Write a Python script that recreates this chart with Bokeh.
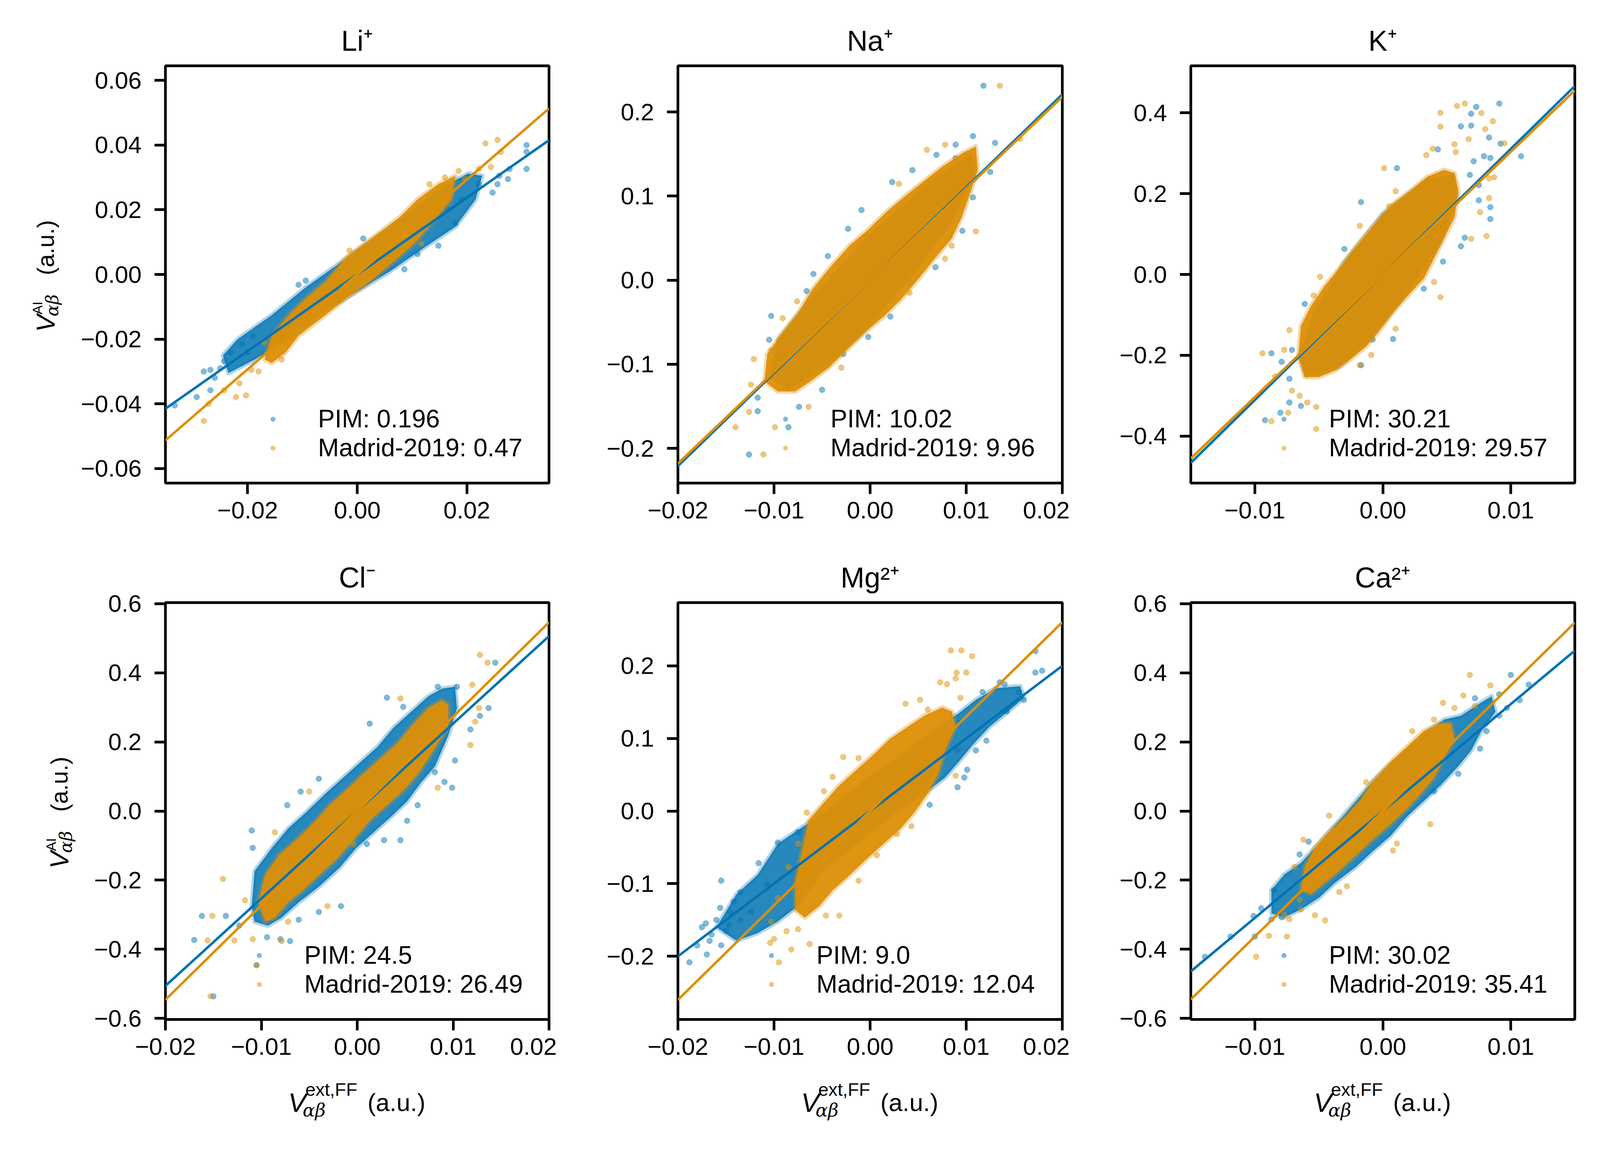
import math
from bokeh.plotting import figure
from bokeh.models import (Range1d, FixedTicker, CustomJSTickFormatter, Legend,
                          LegendItem, Label)
from bokeh.layouts import gridplot
from bokeh.embed import file_html
from bokeh.resources import INLINE

# ------------------------------------------------------------------ data
ions = ["Li\u207a", "Na\u207a", "K\u207a", "Cl\u207b", "Mg\u00b2\u207a", "Ca\u00b2\u207a"]
pim_err = ["0.196", "10.02", "30.21", "24.5", "9.0", "30.02"]
madrid_err = ["0.47", "9.96", "29.57", "26.49", "12.04", "35.41"]

x_limits = [(-0.035, 0.035), (-0.02, 0.02), (-0.015, 0.015),
            (-0.02, 0.02), (-0.02, 0.02), (-0.015, 0.015)]
y_limits = [(-0.0645, 0.0645), (-0.2413, 0.2549), (-0.516, 0.516),
            (-0.603, 0.603), (-0.287, 0.287), (-0.603, 0.603)]
x_ticks = [[-0.02, 0.0, 0.02], [-0.02, -0.01, 0.0, 0.01, 0.02], [-0.01, 0.0, 0.01],
           [-0.02, -0.01, 0.0, 0.01, 0.02], [-0.02, -0.01, 0.0, 0.01, 0.02], [-0.01, 0.0, 0.01]]
y_ticks = [[-0.06, -0.04, -0.02, 0.0, 0.02, 0.04, 0.06],
           [-0.2, -0.1, 0.0, 0.1, 0.2],
           [-0.4, -0.2, 0.0, 0.2, 0.4],
           [-0.6, -0.4, -0.2, 0.0, 0.2, 0.4, 0.6],
           [-0.2, -0.1, 0.0, 0.1, 0.2],
           [-0.6, -0.4, -0.2, 0.0, 0.2, 0.4, 0.6]]
y_decimals = [2, 1, 1, 1, 1, 1]

# fitted lines: y value at the left and right x-limit
fit_pim = [(-0.0415, 0.0415), (-0.221, 0.221), (-0.466, 0.466),
           (-0.506, 0.506), (-0.200, 0.200), (-0.464, 0.464)]
fit_madrid = [(-0.0513, 0.0513), (-0.218, 0.218), (-0.455, 0.455),
              (-0.546, 0.546), (-0.260, 0.260), (-0.545, 0.545)]

# dense cores of the point clouds (outline of the solid region)
li_pim_core = [(-0.0245, -0.0250), (-0.0218, -0.0200), (-0.0156, -0.0126), (-0.0094, -0.0040),
               (-0.0032, 0.0035), (0.0030, 0.0110), (0.0092, 0.0185), (0.0154, 0.0270),
               (0.0203, 0.0312), (0.0228, 0.0305), (0.0216, 0.0232), (0.0179, 0.0147),
               (0.0123, 0.0084), (0.0061, 0.0011), (-0.0001, -0.0053), (-0.0063, -0.0116),
               (-0.0125, -0.0200), (-0.0187, -0.0263), (-0.0235, -0.0305)]
li_madrid_core = [(-0.0169, -0.0263), (-0.0156, -0.0189), (-0.0125, -0.0126), (-0.0094, -0.0074),
                  (-0.0057, -0.0021), (-0.0020, 0.0053), (0.0030, 0.0116), (0.0079, 0.0179),
                  (0.0110, 0.0232), (0.0148, 0.0279), (0.0179, 0.0305), (0.0172, 0.0232),
                  (0.0141, 0.0168), (0.0104, 0.0095), (0.0061, 0.0032), (0.0024, -0.0021),
                  (-0.0020, -0.0074), (-0.0063, -0.0132), (-0.0107, -0.0189), (-0.0131, -0.0242),
                  (-0.0156, -0.0274)]
na_pim_core = [(-0.0105, -0.115), (-0.0095, -0.070), (-0.0060, -0.020), (0.0000, 0.055),
               (0.0060, 0.115), (0.0105, 0.150), (0.0108, 0.125), (0.0085, 0.070),
               (0.0040, 0.000), (-0.0010, -0.065), (-0.0050, -0.105), (-0.0085, -0.130)]
na_madrid_core = [(-0.0110, -0.1202), (-0.0107, -0.0879), (-0.0092, -0.0636), (-0.0075, -0.0393),
                  (-0.0060, -0.0109), (-0.0043, 0.0134), (-0.0021, 0.0417), (-0.0004, 0.0579),
                  (0.0018, 0.0822), (0.0039, 0.1024), (0.0057, 0.1186), (0.0075, 0.1348),
                  (0.0096, 0.1510), (0.0110, 0.1591), (0.0112, 0.1308), (0.0105, 0.1065),
                  (0.0095, 0.0741), (0.0085, 0.0498), (0.0067, 0.0255), (0.0050, 0.0012),
                  (0.0032, -0.0231), (0.0014, -0.0433), (-0.0007, -0.0636), (-0.0025, -0.0838),
                  (-0.0043, -0.1040), (-0.0062, -0.1202), (-0.0078, -0.1324), (-0.0096, -0.1324)]
k_pim_core = [(-0.0065, -0.200), (-0.0055, -0.100), (-0.0030, 0.030), (0.0000, 0.150),
              (0.0035, 0.235), (0.0055, 0.245), (0.0058, 0.190), (0.0045, 0.080),
              (0.0020, -0.040), (-0.0010, -0.160), (-0.0035, -0.230), (-0.0060, -0.250)]
k_madrid_core = [(-0.0066, -0.2034), (-0.0064, -0.1277), (-0.0056, -0.0773), (-0.0045, -0.0269),
                 (-0.0034, 0.0151), (-0.0024, 0.0571), (-0.0013, 0.0992), (-0.0002, 0.1412),
                 (0.0008, 0.1748), (0.0022, 0.2084), (0.0035, 0.2420), (0.0048, 0.2588),
                 (0.0056, 0.2504), (0.0059, 0.2084), (0.0056, 0.1412), (0.0048, 0.0908),
                 (0.0040, 0.0403), (0.0032, -0.0101), (0.0022, -0.0437), (0.0008, -0.0941),
                 (-0.0002, -0.1361), (-0.0013, -0.1782), (-0.0026, -0.2118), (-0.0037, -0.2370),
                 (-0.0050, -0.2538), (-0.0061, -0.2538)]
cl_pim_core = [(-0.0110, -0.2753), (-0.0107, -0.1742), (-0.0089, -0.1067), (-0.0072, -0.0506),
               (-0.0054, -0.0056), (-0.0033, 0.0506), (-0.0015, 0.0955), (0.0003, 0.1404),
               (0.0021, 0.1854), (0.0038, 0.2416), (0.0056, 0.2865), (0.0074, 0.3315),
               (0.0088, 0.3539), (0.0102, 0.3596), (0.0104, 0.2978), (0.0095, 0.2191),
               (0.0088, 0.1742), (0.0081, 0.1292), (0.0067, 0.0843), (0.0052, 0.0281),
               (0.0035, -0.0169), (0.0017, -0.0618), (-0.0001, -0.1067), (-0.0018, -0.1629),
               (-0.0040, -0.2191), (-0.0061, -0.2640), (-0.0079, -0.3090), (-0.0093, -0.3315),
               (-0.0107, -0.3202)]
cl_madrid_core = [(-0.0103, -0.2640), (-0.0096, -0.1854), (-0.0082, -0.1292), (-0.0064, -0.0843),
                  (-0.0047, -0.0393), (-0.0029, 0.0169), (-0.0011, 0.0618), (0.0006, 0.1067),
                  (0.0024, 0.1517), (0.0042, 0.1966), (0.0059, 0.2528), (0.0074, 0.2978),
                  (0.0088, 0.3202), (0.0095, 0.3090), (0.0095, 0.2416), (0.0084, 0.1966),
                  (0.0074, 0.1517), (0.0063, 0.1067), (0.0049, 0.0618), (0.0031, 0.0169),
                  (0.0013, -0.0281), (-0.0004, -0.0843), (-0.0022, -0.1404), (-0.0040, -0.1854),
                  (-0.0057, -0.2303), (-0.0072, -0.2640), (-0.0086, -0.3090), (-0.0096, -0.3202)]
mg_pim_core = [(-0.0160, -0.1600), (-0.0139, -0.1146), (-0.0117, -0.0878), (-0.0096, -0.0450),
               (-0.0078, -0.0289), (-0.0060, -0.0129), (-0.0032, 0.0139), (0.0004, 0.0514),
               (0.0039, 0.0835), (0.0071, 0.1157), (0.0092, 0.1344), (0.0110, 0.1531),
               (0.0131, 0.1692), (0.0156, 0.1719), (0.0160, 0.1558), (0.0146, 0.1398),
               (0.0124, 0.1157), (0.0107, 0.0916), (0.0092, 0.0675), (0.0078, 0.0461),
               (0.0057, 0.0246), (0.0021, -0.0075), (-0.0014, -0.0450), (-0.0050, -0.0825),
               (-0.0075, -0.1307), (-0.0096, -0.1520), (-0.0117, -0.1680), (-0.0139, -0.1788)]
mg_madrid_core = [(-0.0078, -0.0985), (-0.0071, -0.0557), (-0.0064, -0.0129), (-0.0050, 0.0086),
                  (-0.0032, 0.0353), (-0.0014, 0.0568), (0.0004, 0.0782), (0.0021, 0.0996),
                  (0.0039, 0.1157), (0.0057, 0.1317), (0.0075, 0.1424), (0.0085, 0.1371),
                  (0.0089, 0.1157), (0.0078, 0.0835), (0.0071, 0.0514), (0.0060, 0.0246),
                  (0.0046, -0.0021), (0.0032, -0.0236), (0.0014, -0.0450), (-0.0004, -0.0664),
                  (-0.0021, -0.0878), (-0.0039, -0.1092), (-0.0053, -0.1307), (-0.0068, -0.1467),
                  (-0.0078, -0.1360)]
ca_pim_core = [(-0.0087, -0.2288), (-0.0077, -0.1839), (-0.0064, -0.1503), (-0.0050, -0.0942),
               (-0.0034, -0.0269), (-0.0021, 0.0292), (-0.0008, 0.0852), (0.0008, 0.1413),
               (0.0022, 0.1862), (0.0035, 0.2310), (0.0048, 0.2647), (0.0061, 0.2759),
               (0.0075, 0.3095), (0.0085, 0.3320), (0.0088, 0.2871), (0.0077, 0.2310),
               (0.0069, 0.1749), (0.0059, 0.1301), (0.0045, 0.0740), (0.0032, 0.0292),
               (0.0019, -0.0157), (0.0006, -0.0718), (-0.0008, -0.1166), (-0.0021, -0.1615),
               (-0.0037, -0.2063), (-0.0050, -0.2512), (-0.0064, -0.2848), (-0.0077, -0.3073),
               (-0.0087, -0.2961)]
ca_madrid_core = [(-0.0064, -0.2288), (-0.0061, -0.1615), (-0.0053, -0.1054), (-0.0042, -0.0606),
                  (-0.0029, -0.0157), (-0.0018, 0.0292), (-0.0008, 0.0852), (0.0006, 0.1413),
                  (0.0019, 0.1862), (0.0032, 0.2310), (0.0045, 0.2535), (0.0053, 0.2535),
                  (0.0056, 0.2086), (0.0048, 0.1525), (0.0040, 0.0964), (0.0030, 0.0516),
                  (0.0019, 0.0067), (0.0006, -0.0381), (-0.0008, -0.0830), (-0.0021, -0.1278),
                  (-0.0034, -0.1727), (-0.0045, -0.2063), (-0.0056, -0.2400)]

# scattered points outside the dense cores
li_pim_pts = [(-0.0333, -0.0405), (-0.0293, -0.0379), (-0.0268, -0.0358), (-0.0268, -0.0295),
              (-0.0243, -0.0268), (-0.0231, -0.0242), (-0.0107, -0.0032), (-0.0094, -0.0019),
              (0.0011, 0.0111), (0.0086, 0.0016), (0.0110, 0.0063), (0.0148, 0.0089),
              (0.0179, 0.0158), (0.0247, 0.0253), (0.0256, 0.0279), (0.0275, 0.0295),
              (0.0278, 0.0326), (0.0309, 0.0400), (0.0309, 0.0379), (0.0309, 0.0326),
              (0.0259, 0.0305), (0.0222, 0.0279), (-0.0280, -0.0300), (-0.0260, -0.0320),
              (-0.0250, -0.0290), (-0.0210, -0.0215), (-0.0200, -0.0240), (-0.0190, -0.0190),
              (0.0200, 0.0300), (0.0190, 0.0230), (0.0165, 0.0200)]
li_madrid_pts = [(-0.0280, -0.0453), (-0.0271, -0.0400), (-0.0221, -0.0379), (-0.0203, -0.0374),
                 (-0.0243, -0.0358), (-0.0215, -0.0337), (-0.0193, -0.0295), (-0.0014, 0.0074),
                 (0.0132, 0.0279), (0.0234, 0.0405), (0.0256, 0.0416), (0.0262, 0.0379),
                 (0.0244, 0.0332), (0.0222, 0.0326), (0.0197, 0.0295), (0.0117, 0.0095),
                 (-0.0138, -0.0263), (-0.0180, -0.0300), (-0.0170, -0.0210), (0.0185, 0.0320),
                 (0.0160, 0.0300)]
na_pim_pts = [(0.0118, 0.2312), (-0.0009, 0.0834), (-0.0023, 0.0611), (-0.0044, 0.0287),
              (-0.0059, 0.0073), (-0.0066, -0.0130), (-0.0103, -0.0425), (-0.0105, -0.0709),
              (-0.0096, -0.0911), (-0.0117, -0.1397), (-0.0117, -0.1559), (-0.0126, -0.2073),
              (-0.0085, -0.1749), (-0.0050, -0.1304), (-0.0074, -0.1506), (0.0130, 0.1632),
              (0.0107, 0.1713), (0.0089, 0.1611), (0.0069, 0.1490), (0.0044, 0.1308),
              (0.0023, 0.1166), (0.0098, 0.1186), (0.0107, 0.0984), (0.0096, 0.0587),
              (0.0068, 0.0154), (0.0041, -0.0028), (0.0021, -0.0433), (-0.0002, -0.0676),
              (-0.0028, -0.0879), (0.0125, 0.1287), (0.0089, 0.1449)]
na_madrid_pts = [(0.0135, 0.2312), (0.0156, 0.1680), (0.0059, 0.1550), (0.0078, 0.1611),
                 (0.0110, 0.0579), (0.0085, 0.0409), (0.0030, 0.1146), (-0.0076, -0.0251),
                 (-0.0091, -0.0453), (-0.0103, -0.0838), (-0.0121, -0.0939), (-0.0124, -0.1243),
                 (-0.0126, -0.1567), (-0.0140, -0.1749), (-0.0111, -0.2073), (-0.0099, -0.1749),
                 (-0.0057, -0.1101), (-0.0030, -0.1040), (-0.0064, -0.1506), (0.0107, 0.1389),
                 (0.0078, 0.0255), (0.0041, -0.0150)]
k_pim_pts = [(0.0073, 0.4143), (0.0091, 0.4227), (0.0069, 0.3975), (0.0061, 0.3664),
             (0.0069, 0.3681), (0.0083, 0.3387), (0.0079, 0.2924), (0.0084, 0.2882),
             (0.0071, 0.2798), (0.0092, 0.3235), (0.0108, 0.2924), (0.0075, 0.1832),
             (0.0084, 0.1664), (0.0084, 0.1370), (0.0064, 0.0908), (0.0061, 0.0697),
             (0.0047, 0.0319), (0.0032, -0.0353), (0.0011, 0.2630), (-0.0030, 0.0630),
             (-0.0061, -0.0731), (-0.0071, -0.1866), (-0.0087, -0.1950), (-0.0079, -0.2160),
             (-0.0073, -0.2580), (-0.0073, -0.3168), (-0.0064, -0.3252), (-0.0080, -0.3420),
             (-0.0092, -0.3605), (-0.0008, -0.1613), (0.0008, -0.1597), (-0.0017, -0.2244),
             (0.0068, 0.2462), (0.0075, 0.2210), (0.0043, 0.3092), (-0.0017, 0.1790)]
k_madrid_pts = [(0.0058, 0.4168), (0.0064, 0.4227), (0.0045, 0.4000), (0.0045, 0.3655),
                (0.0077, 0.3992), (0.0086, 0.3790), (0.0080, 0.3597), (0.0067, 0.3345),
                (0.0095, 0.3244), (0.0056, 0.3218), (0.0039, 0.3109), (0.0034, 0.2950),
                (0.0057, 0.3025), (0.0001, 0.2630), (0.0010, 0.2059), (0.0083, 0.2378),
                (0.0087, 0.2403), (0.0083, 0.1891), (0.0076, 0.1538), (0.0081, 0.0950),
                (0.0069, 0.0882), (0.0045, -0.0563), (0.0040, -0.0185), (0.0005, 0.1689),
                (-0.0018, 0.1202), (-0.0054, -0.0521), (-0.0049, -0.0059), (-0.0073, -0.1378),
                (-0.0077, -0.1866), (-0.0094, -0.1950), (-0.0084, -0.2521), (-0.0071, -0.2874),
                (-0.0065, -0.3000), (-0.0059, -0.3168), (-0.0074, -0.3420), (-0.0087, -0.3630),
                (-0.0052, -0.3277), (-0.0018, -0.2244), (-0.0009, -0.1992), (0.0010, -0.1345),
                (-0.0052, -0.3820)]
cl_pim_pts = [(0.0144, 0.4292), (0.0137, 0.2978), (0.0128, 0.2753), (0.0118, 0.2360),
              (0.0102, 0.1461), (0.0099, 0.0674), (0.0091, 0.0843), (0.0081, 0.1124),
              (0.0063, 0.0169), (0.0052, -0.0281), (0.0045, -0.0843), (0.0028, -0.0843),
              (0.0010, -0.0955), (-0.0017, -0.2753), (-0.0040, -0.2921), (-0.0061, -0.3146),
              (-0.0070, -0.3764), (-0.0080, -0.3708), (-0.0094, -0.3652), (-0.0137, -0.3034),
              (-0.0162, -0.3034), (-0.0170, -0.3730), (-0.0150, -0.5360), (-0.0110, -0.0562),
              (-0.0073, 0.0169), (-0.0059, 0.0562), (-0.0040, 0.0933), (0.0013, 0.2528),
              (0.0031, 0.3281), (0.0048, 0.3011), (0.0104, 0.3596), (0.0084, 0.3596),
              (-0.0105, -0.4461), (-0.0123, -0.3315), (-0.0109, -0.1067)]
cl_madrid_pts = [(0.0128, 0.4517), (0.0136, 0.4292), (0.0120, 0.3652), (0.0127, 0.2978),
                 (0.0118, 0.1910), (0.0123, 0.2584), (0.0084, 0.0674), (0.0045, 0.3258),
                 (-0.0086, -0.0618), (-0.0050, 0.0562), (-0.0140, -0.1966), (-0.0151, -0.3034),
                 (-0.0156, -0.3742), (-0.0128, -0.3742), (-0.0109, -0.3708), (-0.0079, -0.3764),
                 (-0.0153, -0.5360), (-0.0072, -0.3202), (-0.0031, -0.2753), (-0.0117, -0.2584),
                 (-0.0004, -0.0955), (-0.0105, -0.4461)]
mg_pim_pts = [(-0.0188, -0.2083), (-0.0170, -0.1976), (-0.0171, -0.1548), (-0.0167, -0.1788),
              (-0.0155, -0.0959), (-0.0156, -0.1333), (-0.0147, -0.1574), (-0.0135, -0.1119),
              (-0.0124, -0.1387), (-0.0116, -0.0718), (-0.0096, -0.0434), (-0.0075, -0.0289),
              (-0.0107, -0.1012), (0.0062, 0.0086), (0.0091, 0.0327), (0.0098, 0.0461),
              (0.0101, 0.0568), (0.0110, 0.0835), (0.0121, 0.0969), (0.0142, 0.1371),
              (0.0160, 0.1531), (0.0172, 0.2201), (0.0172, 0.1906), (0.0179, 0.1933),
              (0.0155, 0.1639), (0.0135, 0.1772), (0.0117, 0.1639), (0.0140, 0.1746),
              (0.0092, 0.1210), (0.0091, 0.0835), (-0.0175, -0.1600), (-0.0165, -0.1700),
              (-0.0160, -0.1500), (-0.0150, -0.1650), (-0.0145, -0.1400), (-0.0180, -0.1850),
              (-0.0155, -0.1850), (-0.0142, -0.1250), (-0.0135, -0.1500)]
mg_madrid_pts = [(0.0084, 0.2212), (0.0095, 0.2212), (0.0106, 0.2131), (0.0090, 0.1906),
                 (0.0089, 0.1826), (0.0100, 0.1906), (0.0073, 0.1772), (0.0080, 0.1746),
                 (0.0052, 0.1531), (0.0060, 0.1398), (0.0037, 0.1478), (0.0094, 0.1558),
                 (0.0071, 0.0942), (0.0089, 0.0487), (-0.0028, 0.0744), (-0.0012, 0.0728),
                 (-0.0039, 0.0471), (-0.0048, 0.0273), (-0.0066, -0.0021), (-0.0075, -0.0450),
                 (-0.0085, -0.0771), (-0.0096, -0.1199), (-0.0103, -0.1521), (-0.0100, -0.1762),
                 (-0.0087, -0.1655), (-0.0075, -0.1628), (-0.0104, -0.1815), (-0.0095, -0.2083),
                 (-0.0082, -0.1906), (-0.0063, -0.1831), (-0.0046, -0.1440), (-0.0032, -0.1440),
                 (-0.0012, -0.0959), (0.0007, -0.0610), (0.0028, -0.0316), (0.0043, -0.0209)]
ca_pim_pts = [(-0.0139, -0.4217), (-0.0119, -0.3634), (-0.0101, -0.3039), (-0.0095, -0.2815),
              (-0.0085, -0.2288), (-0.0079, -0.3073), (-0.0087, -0.3129), (-0.0065, -0.1256),
              (-0.0058, -0.0886), (0.0100, 0.3936), (0.0114, 0.3656), (0.0107, 0.3207),
              (0.0091, 0.3376), (0.0097, 0.2983), (0.0091, 0.2759), (0.0072, 0.3263),
              (0.0076, 0.1806), (0.0081, 0.2310), (0.0056, 0.2086), (-0.0100, -0.3634),
              (0.0059, 0.1077), (0.0040, 0.0572)]
ca_madrid_pts = [(0.0068, 0.3936), (0.0084, 0.3634), (0.0063, 0.3342), (0.0047, 0.3129),
                 (0.0056, 0.2983), (0.0072, 0.3039), (0.0040, 0.2647), (0.0023, 0.2310),
                 (0.0037, -0.0381), (0.0011, -0.0942), (0.0008, -0.1144), (-0.0013, 0.0830),
                 (-0.0042, -0.0135), (-0.0062, -0.0830), (-0.0069, -0.1615), (-0.0065, -0.2568),
                 (-0.0077, -0.3017), (-0.0073, -0.3129), (-0.0064, -0.2848), (-0.0053, -0.3017),
                 (-0.0045, -0.3163), (-0.0089, -0.3611), (-0.0075, -0.3634), (-0.0099, -0.4217),
                 (-0.0034, -0.2344), (-0.0028, -0.2176)]

pim_cores = [li_pim_core, na_pim_core, k_pim_core, cl_pim_core, mg_pim_core, ca_pim_core]
madrid_cores = [li_madrid_core, na_madrid_core, k_madrid_core, cl_madrid_core,
                mg_madrid_core, ca_madrid_core]
pim_points = [li_pim_pts, na_pim_pts, k_pim_pts, cl_pim_pts, mg_pim_pts, ca_pim_pts]
madrid_points = [li_madrid_pts, na_madrid_pts, k_madrid_pts, cl_madrid_pts,
                 mg_madrid_pts, ca_madrid_pts]

# ------------------------------------------------------------------ layout / style
K = 1.024          # the page renders about 2.4 % larger than its css size
BLUE = "#0173b2"
ORANGE = "#de8f05"
FONT = "Liberation Sans"
GREEK_FONT = "DejaVu Serif"


def px(v):
    return v / K


def fs(v):
    return "%.1fpx" % (v / K)


# target picture coordinates (pixels of the 4200x3000 image)
COL_B = [8 * K, 212, 441, 1447, 1467, 1785, 2792, 2812, 3129, 4136, 4156]
ROW_B = [8 * K, 180, 1274, 1424, 1587, 2680, 2830, 2964]
COLc = [round(px(v)) for v in COL_B]
ROWc = [round(px(v)) for v in ROW_B]
STRIP_W = COLc[1] - COLc[0]
col_left = [COLc[2] - COLc[1], COLc[5] - COLc[4], COLc[8] - COLc[7]]
col_frame = [COLc[3] - COLc[2], COLc[6] - COLc[5], COLc[9] - COLc[8]]
col_right = [COLc[4] - COLc[3], COLc[7] - COLc[6], COLc[10] - COLc[9]]
row_top = [ROWc[1] - ROWc[0], ROWc[4] - ROWc[3]]
row_frame = [ROWc[2] - ROWc[1], ROWc[5] - ROWc[4]]
row_bot = [ROWc[3] - ROWc[2], ROWc[6] - ROWc[5]]
XLAB_H = ROWc[7] - ROWc[6]
LEGEND_TEXT_X = [400, 400, 362, 364, 363, 362]  # target px from frame left
YLABEL_BASE = [127, 163]                      # target px, baseline of rotated label
YLABEL_SHIFT = 151                            # "V" starts this far below frame centre

FMT_CODE = """
const s = tick.toFixed(d);
return (tick < 0) ? '\u2212' + s.substring(1) : s;
"""


def strip(fw, fh, bl, br, bt, bb):
    s = figure(frame_width=fw, frame_height=fh, x_range=Range1d(0, fw), y_range=Range1d(0, fh),
               min_border_left=bl, min_border_right=br, min_border_top=bt,
               min_border_bottom=bb, x_axis_location=None, y_axis_location=None,
               output_backend="svg", toolbar_location=None, title=None,
               outline_line_color=None, background_fill_color="white",
               border_fill_color="white")
    s.grid.visible = False
    return s


def lbl(p, x, y, text, size, italic=False, angle=0.0, font=FONT):
    p.add_layout(Label(x=x, y=y, text=text, angle=angle, text_font=font,
                       text_font_size=size,
                       text_font_style="italic" if italic else "normal",
                       text_color="black", text_align="left",
                       text_baseline="alphabetic"))


figs = []
for i in range(6):
    r, c = divmod(i, 3)
    x0, x1 = x_limits[i]
    p = figure(frame_width=col_frame[c], frame_height=row_frame[r],
               min_border_left=col_left[c], min_border_right=col_right[c],
               min_border_top=row_top[r], min_border_bottom=row_bot[r],
               x_range=Range1d(x0, x1), y_range=Range1d(*y_limits[i]),
               output_backend="svg", toolbar_location=None,
               background_fill_color="white", border_fill_color="white",
               outline_line_color="black", outline_line_width=px(7))
    p.title.text = ions[i]
    p.title.align = "center"
    p.title.text_font = FONT
    p.title.text_font_size = fs(75)
    p.title.text_font_style = "normal"
    p.title.text_color = "black"
    p.title.standoff = px(46)
    p.grid.visible = False

    for ax, ticks, dec, stand in ((p.xaxis[0], x_ticks[i], 2, 20),
                                  (p.yaxis[0], y_ticks[i], y_decimals[i], 34)):
        ax.ticker = FixedTicker(ticks=ticks)
        ax.formatter = CustomJSTickFormatter(args=dict(d=dec), code=FMT_CODE)
        ax.axis_line_color = None
        ax.major_tick_out = round(px(29))
        ax.major_tick_in = 0
        ax.major_tick_line_width = px(7)
        ax.major_tick_line_color = "black"
        ax.minor_tick_line_color = None
        ax.major_label_text_font = FONT
        ax.major_label_text_font_size = fs(63)
        ax.major_label_text_color = "black"
        ax.major_label_standoff = round(px(stand))

    bx = [v[0] for v in pim_cores[i]]
    by = [v[1] for v in pim_cores[i]]
    p.patch(bx, by, fill_color=BLUE, fill_alpha=0.85, line_color=BLUE,
            line_alpha=0.3, line_width=px(12), line_join="round")
    rb = p.scatter([v[0] for v in pim_points[i]], [v[1] for v in pim_points[i]],
                   size=px(15), fill_color=BLUE, fill_alpha=0.5, line_color=BLUE,
                   line_alpha=0.5, line_width=1)
    ox = [v[0] for v in madrid_cores[i]]
    oy = [v[1] for v in madrid_cores[i]]
    p.patch(ox, oy, fill_color=ORANGE, fill_alpha=0.95, line_color=ORANGE,
            line_alpha=0.35, line_width=px(12), line_join="round")
    ro = p.scatter([v[0] for v in madrid_points[i]], [v[1] for v in madrid_points[i]],
                   size=px(15), fill_color=ORANGE, fill_alpha=0.5, line_color=ORANGE,
                   line_alpha=0.5, line_width=1)
    p.line([x0, x1], list(fit_pim[i]), line_color=BLUE, line_width=px(6.5))
    p.line([x0, x1], list(fit_madrid[i]), line_color=ORANGE, line_width=px(6.5))

    legend = Legend(items=[LegendItem(label="PIM: " + pim_err[i], renderers=[rb]),
                           LegendItem(label="Madrid-2019: " + madrid_err[i], renderers=[ro])],
                    location=(round(px(LEGEND_TEXT_X[i] - 133)), round(px(54))),
                    border_line_color=None, background_fill_alpha=0.0,
                    padding=0, margin=0, spacing=-3,
                    glyph_width=round(px(30)), glyph_height=round(px(30)),
                    label_standoff=round(px(103)),
                    label_text_font=FONT, label_text_font_size=fs(66),
                    label_text_color="black")
    p.add_layout(legend)
    figs.append(p)

# y-axis label strips (left column); frames line up with the row's frames
ylabs = []
for r in range(2):
    s = strip(STRIP_W, row_frame[r], 0, 0, row_top[r], row_bot[r])
    bx = px(YLABEL_BASE[r]) - COLc[0]
    a = math.pi / 2
    y0 = row_frame[r] / 2 - px(YLABEL_SHIFT)      # from frame bottom, upwards
    lbl(s, bx, y0, "V", fs(68), italic=True, angle=a)
    lbl(s, bx - px(22), y0 + px(46), "AI", fs(36), angle=a)
    lbl(s, bx + px(17), y0 + px(41), "\u03b1\u03b2", fs(46), italic=True, angle=a,
        font=GREEK_FONT)
    lbl(s, bx, y0 + px(149), "(a.u.)", fs(62), angle=a)
    ylabs.append(s)

# x-axis label strips (bottom row); frames line up with the column's frames
xlabs = []
for c in range(3):
    s = strip(col_frame[c], XLAB_H, col_left[c], col_right[c], 0, 0)
    xs = col_frame[c] / 2 - px(181)

    def yup(t):
        return ROWc[7] - px(t)

    lbl(s, xs, yup(2897), "V", fs(71), italic=True)
    lbl(s, xs + px(45), yup(2864), "ext,FF", fs(48))
    lbl(s, xs + px(38), yup(2917), "\u03b1\u03b2", fs(48), italic=True, font=GREEK_FONT)
    lbl(s, xs + px(208), yup(2897), "(a.u.)", fs(65))
    xlabs.append(s)

grid = gridplot([[ylabs[0]] + figs[0:3], [ylabs[1]] + figs[3:6], [None] + xlabs],
                toolbar_location=None)
open("out.html", "w").write(file_html(grid, INLINE))
